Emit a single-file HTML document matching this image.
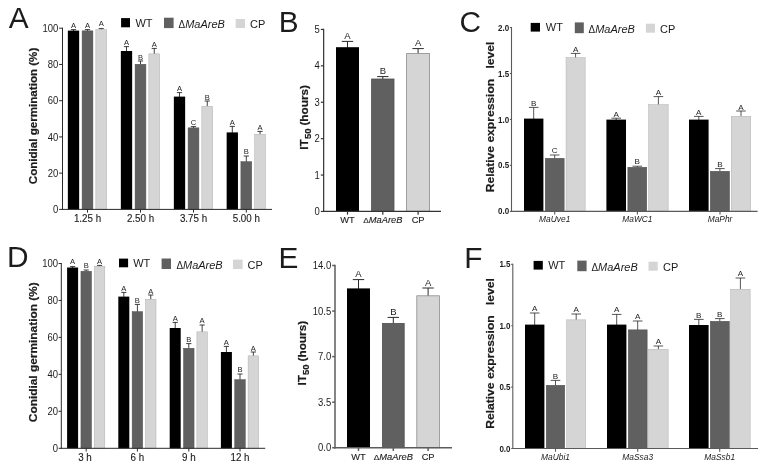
<!DOCTYPE html>
<html lang="en">
<head>
<meta charset="utf-8">
<title>Figure</title>
<style>
html,body{margin:0;padding:0;background:#ffffff;}
body{width:770px;height:467px;overflow:hidden;}
svg{display:block;}
svg text{font-family:"Liberation Sans",sans-serif;fill:#1c1c1c;}
svg text.t{stroke:#1c1c1c;stroke-width:0.12px;}
svg .yl{stroke:#1c1c1c;stroke-width:0.2px;}
</style>
</head>
<body>
<svg width="770" height="467" viewBox="0 0 770 467">
<rect x="0" y="0" width="770" height="467" fill="#ffffff"/>
<text x="8.7" y="27.8" font-size="29.8">A</text>
<line x1="73.5" y1="29.6" x2="73.5" y2="31.1" stroke="#2a2a2a" stroke-width="0.9"/>
<line x1="70.9" y1="29.6" x2="76.1" y2="29.6" stroke="#2a2a2a" stroke-width="0.9"/>
<rect x="67.85" y="30.6" width="11.3" height="178.8" fill="#000000"/>
<text x="73.5" y="27.5" font-size="7.6" text-anchor="middle">A</text>
<line x1="87.5" y1="29.6" x2="87.5" y2="31.1" stroke="#2a2a2a" stroke-width="0.9"/>
<line x1="84.9" y1="29.6" x2="90.1" y2="29.6" stroke="#2a2a2a" stroke-width="0.9"/>
<rect x="82.1" y="30.85" width="10.8" height="178.55" fill="#606060" stroke="#505050" stroke-width="0.5"/>
<text x="87.5" y="27.5" font-size="7.6" text-anchor="middle">A</text>
<line x1="101.25" y1="28.6" x2="101.25" y2="29.9" stroke="#2a2a2a" stroke-width="0.9"/>
<line x1="98.65" y1="28.6" x2="103.85" y2="28.6" stroke="#2a2a2a" stroke-width="0.9"/>
<rect x="95.85" y="29.65" width="10.8" height="179.75" fill="#d5d5d5" stroke="#b0b0b0" stroke-width="0.5"/>
<text x="101.25" y="26.3" font-size="7.6" text-anchor="middle">A</text>
<line x1="126.5" y1="46.6" x2="126.5" y2="51.5" stroke="#2a2a2a" stroke-width="0.9"/>
<line x1="123.9" y1="46.6" x2="129.1" y2="46.6" stroke="#2a2a2a" stroke-width="0.9"/>
<rect x="120.85" y="51" width="11.3" height="158.4" fill="#000000"/>
<text x="126.5" y="45.4" font-size="7.6" text-anchor="middle">A</text>
<line x1="140.5" y1="61" x2="140.5" y2="64.5" stroke="#2a2a2a" stroke-width="0.9"/>
<line x1="137.9" y1="61" x2="143.1" y2="61" stroke="#2a2a2a" stroke-width="0.9"/>
<rect x="135.1" y="64.25" width="10.8" height="145.15" fill="#606060" stroke="#505050" stroke-width="0.5"/>
<text x="140.5" y="59.6" font-size="7.6" text-anchor="middle">B</text>
<line x1="154.25" y1="48.4" x2="154.25" y2="54.1" stroke="#2a2a2a" stroke-width="0.9"/>
<line x1="151.65" y1="48.4" x2="156.85" y2="48.4" stroke="#2a2a2a" stroke-width="0.9"/>
<rect x="148.85" y="53.85" width="10.8" height="155.55" fill="#d5d5d5" stroke="#b0b0b0" stroke-width="0.5"/>
<text x="154.25" y="47" font-size="7.6" text-anchor="middle">A</text>
<line x1="179.5" y1="92.6" x2="179.5" y2="97.1" stroke="#2a2a2a" stroke-width="0.9"/>
<line x1="176.9" y1="92.6" x2="182.1" y2="92.6" stroke="#2a2a2a" stroke-width="0.9"/>
<rect x="173.85" y="96.6" width="11.3" height="112.8" fill="#000000"/>
<text x="179.5" y="91" font-size="7.6" text-anchor="middle">A</text>
<line x1="193.5" y1="126.6" x2="193.5" y2="128.1" stroke="#2a2a2a" stroke-width="0.9"/>
<line x1="190.9" y1="126.6" x2="196.1" y2="126.6" stroke="#2a2a2a" stroke-width="0.9"/>
<rect x="188.1" y="127.85" width="10.8" height="81.55" fill="#606060" stroke="#505050" stroke-width="0.5"/>
<text x="193.5" y="125.2" font-size="7.6" text-anchor="middle">C</text>
<line x1="207.25" y1="101" x2="207.25" y2="106.5" stroke="#2a2a2a" stroke-width="0.9"/>
<line x1="204.65" y1="101" x2="209.85" y2="101" stroke="#2a2a2a" stroke-width="0.9"/>
<rect x="201.85" y="106.25" width="10.8" height="103.15" fill="#d5d5d5" stroke="#b0b0b0" stroke-width="0.5"/>
<text x="207.25" y="99.6" font-size="7.6" text-anchor="middle">B</text>
<line x1="232.3" y1="126.4" x2="232.3" y2="132.9" stroke="#2a2a2a" stroke-width="0.9"/>
<line x1="229.7" y1="126.4" x2="234.9" y2="126.4" stroke="#2a2a2a" stroke-width="0.9"/>
<rect x="226.65" y="132.4" width="11.3" height="77" fill="#000000"/>
<text x="232.3" y="125" font-size="7.6" text-anchor="middle">A</text>
<line x1="246.3" y1="156" x2="246.3" y2="161.9" stroke="#2a2a2a" stroke-width="0.9"/>
<line x1="243.7" y1="156" x2="248.9" y2="156" stroke="#2a2a2a" stroke-width="0.9"/>
<rect x="240.9" y="161.65" width="10.8" height="47.75" fill="#606060" stroke="#505050" stroke-width="0.5"/>
<text x="246.3" y="154.4" font-size="7.6" text-anchor="middle">B</text>
<line x1="260.05" y1="131.4" x2="260.05" y2="134.5" stroke="#2a2a2a" stroke-width="0.9"/>
<line x1="257.45" y1="131.4" x2="262.65" y2="131.4" stroke="#2a2a2a" stroke-width="0.9"/>
<rect x="254.65" y="134.25" width="10.8" height="75.15" fill="#d5d5d5" stroke="#b0b0b0" stroke-width="0.5"/>
<text x="260.05" y="130" font-size="7.6" text-anchor="middle">A</text>
<line x1="62.5" y1="27.7" x2="62.5" y2="209.9" stroke="#2a2a2a" stroke-width="1"/>
<line x1="59.1" y1="28.2" x2="62.5" y2="28.2" stroke="#2a2a2a" stroke-width="1"/>
<text font-size="9.5" transform="translate(58.3 31.84) scale(1 1.1)" text-anchor="end">100</text>
<line x1="59.1" y1="64.45" x2="62.5" y2="64.45" stroke="#2a2a2a" stroke-width="1"/>
<text font-size="9.5" transform="translate(58.3 68.09) scale(1 1.1)" text-anchor="end">80</text>
<line x1="59.1" y1="100.7" x2="62.5" y2="100.7" stroke="#2a2a2a" stroke-width="1"/>
<text font-size="9.5" transform="translate(58.3 104.34) scale(1 1.1)" text-anchor="end">60</text>
<line x1="59.1" y1="136.9" x2="62.5" y2="136.9" stroke="#2a2a2a" stroke-width="1"/>
<text font-size="9.5" transform="translate(58.3 140.54) scale(1 1.1)" text-anchor="end">40</text>
<line x1="59.1" y1="173.15" x2="62.5" y2="173.15" stroke="#2a2a2a" stroke-width="1"/>
<text font-size="9.5" transform="translate(58.3 176.79) scale(1 1.1)" text-anchor="end">20</text>
<line x1="59.1" y1="209.4" x2="62.5" y2="209.4" stroke="#2a2a2a" stroke-width="1"/>
<text font-size="9.5" transform="translate(58.3 213.04) scale(1 1.1)" text-anchor="end">0</text>
<line x1="62" y1="209.4" x2="272" y2="209.4" stroke="#2a2a2a" stroke-width="1"/>
<line x1="87.5" y1="209.4" x2="87.5" y2="212.6" stroke="#2a2a2a" stroke-width="1"/>
<line x1="140.5" y1="209.4" x2="140.5" y2="212.6" stroke="#2a2a2a" stroke-width="1"/>
<line x1="193.5" y1="209.4" x2="193.5" y2="212.6" stroke="#2a2a2a" stroke-width="1"/>
<line x1="246.3" y1="209.4" x2="246.3" y2="212.6" stroke="#2a2a2a" stroke-width="1"/>
<text font-size="9.8" transform="translate(87.5 222.4) scale(1 1.06)" text-anchor="middle" class="t">1.25 h</text>
<text font-size="9.8" transform="translate(140.5 222.4) scale(1 1.06)" text-anchor="middle" class="t">2.50 h</text>
<text font-size="9.8" transform="translate(193.5 222.4) scale(1 1.06)" text-anchor="middle" class="t">3.75 h</text>
<text font-size="9.8" transform="translate(246.3 222.4) scale(1 1.06)" text-anchor="middle" class="t">5.00 h</text>
<text class="yl" font-size="10.36" font-weight="bold" transform="translate(36.8 184.2) rotate(-90) scale(1.12 1)">Conidial germination (%)</text>
<rect x="121.1" y="18.1" width="8.9" height="9.2" fill="#000000"/>
<text font-size="11" transform="translate(135.4 26.9) scale(1 1.03)">WT</text>
<rect x="164" y="17.7" width="9.6" height="10.4" fill="#606060"/>
<text font-size="11" transform="translate(178.6 27.5) scale(1 1.03)"><tspan font-size="0.9em">Δ</tspan><tspan font-style="italic">MaAreB</tspan></text>
<rect x="235.7" y="19" width="9.3" height="9" fill="#d5d5d5"/>
<text font-size="11" transform="translate(250 27.5) scale(1 1.03)">CP</text>
<text x="7" y="266.6" font-size="29.8">D</text>
<line x1="72.6" y1="266.6" x2="72.6" y2="268" stroke="#2a2a2a" stroke-width="0.9"/>
<line x1="70" y1="266.6" x2="75.2" y2="266.6" stroke="#2a2a2a" stroke-width="0.9"/>
<rect x="67.1" y="267.5" width="11" height="180.8" fill="#000000"/>
<text x="72.6" y="264.4" font-size="7.6" text-anchor="middle">A</text>
<line x1="86.2" y1="270" x2="86.2" y2="271.5" stroke="#2a2a2a" stroke-width="0.9"/>
<line x1="83.6" y1="270" x2="88.8" y2="270" stroke="#2a2a2a" stroke-width="0.9"/>
<rect x="80.95" y="271.25" width="10.5" height="177.05" fill="#606060" stroke="#505050" stroke-width="0.5"/>
<text x="86.2" y="268.2" font-size="7.6" text-anchor="middle">B</text>
<line x1="99.55" y1="265.4" x2="99.55" y2="266.5" stroke="#2a2a2a" stroke-width="0.9"/>
<line x1="96.95" y1="265.4" x2="102.15" y2="265.4" stroke="#2a2a2a" stroke-width="0.9"/>
<rect x="94.3" y="266.25" width="10.5" height="182.05" fill="#d5d5d5" stroke="#b0b0b0" stroke-width="0.5"/>
<text x="99.55" y="264" font-size="7.6" text-anchor="middle">A</text>
<line x1="123.8" y1="292.4" x2="123.8" y2="297.1" stroke="#2a2a2a" stroke-width="0.9"/>
<line x1="121.2" y1="292.4" x2="126.4" y2="292.4" stroke="#2a2a2a" stroke-width="0.9"/>
<rect x="118.3" y="296.6" width="11" height="151.7" fill="#000000"/>
<text x="123.8" y="291" font-size="7.6" text-anchor="middle">A</text>
<line x1="137.4" y1="304.4" x2="137.4" y2="311.9" stroke="#2a2a2a" stroke-width="0.9"/>
<line x1="134.8" y1="304.4" x2="140" y2="304.4" stroke="#2a2a2a" stroke-width="0.9"/>
<rect x="132.15" y="311.65" width="10.5" height="136.65" fill="#606060" stroke="#505050" stroke-width="0.5"/>
<text x="137.4" y="302.6" font-size="7.6" text-anchor="middle">B</text>
<line x1="150.75" y1="295" x2="150.75" y2="299.5" stroke="#2a2a2a" stroke-width="0.9"/>
<line x1="148.15" y1="295" x2="153.35" y2="295" stroke="#2a2a2a" stroke-width="0.9"/>
<rect x="145.5" y="299.25" width="10.5" height="149.05" fill="#d5d5d5" stroke="#b0b0b0" stroke-width="0.5"/>
<text x="150.75" y="293.6" font-size="7.6" text-anchor="middle">A</text>
<line x1="175.2" y1="322.4" x2="175.2" y2="328.5" stroke="#2a2a2a" stroke-width="0.9"/>
<line x1="172.6" y1="322.4" x2="177.8" y2="322.4" stroke="#2a2a2a" stroke-width="0.9"/>
<rect x="169.7" y="328" width="11" height="120.3" fill="#000000"/>
<text x="175.2" y="321" font-size="7.6" text-anchor="middle">A</text>
<line x1="188.8" y1="343.6" x2="188.8" y2="348.5" stroke="#2a2a2a" stroke-width="0.9"/>
<line x1="186.2" y1="343.6" x2="191.4" y2="343.6" stroke="#2a2a2a" stroke-width="0.9"/>
<rect x="183.55" y="348.25" width="10.5" height="100.05" fill="#606060" stroke="#505050" stroke-width="0.5"/>
<text x="188.8" y="342" font-size="7.6" text-anchor="middle">B</text>
<line x1="202.15" y1="325" x2="202.15" y2="332.1" stroke="#2a2a2a" stroke-width="0.9"/>
<line x1="199.55" y1="325" x2="204.75" y2="325" stroke="#2a2a2a" stroke-width="0.9"/>
<rect x="196.9" y="331.85" width="10.5" height="116.45" fill="#d5d5d5" stroke="#b0b0b0" stroke-width="0.5"/>
<text x="202.15" y="323.4" font-size="7.6" text-anchor="middle">A</text>
<line x1="226.4" y1="346.4" x2="226.4" y2="352.5" stroke="#2a2a2a" stroke-width="0.9"/>
<line x1="223.8" y1="346.4" x2="229" y2="346.4" stroke="#2a2a2a" stroke-width="0.9"/>
<rect x="220.9" y="352" width="11" height="96.3" fill="#000000"/>
<text x="226.4" y="345" font-size="7.6" text-anchor="middle">A</text>
<line x1="240" y1="374" x2="240" y2="379.9" stroke="#2a2a2a" stroke-width="0.9"/>
<line x1="237.4" y1="374" x2="242.6" y2="374" stroke="#2a2a2a" stroke-width="0.9"/>
<rect x="234.75" y="379.65" width="10.5" height="68.65" fill="#606060" stroke="#505050" stroke-width="0.5"/>
<text x="240" y="372.4" font-size="7.6" text-anchor="middle">B</text>
<line x1="253.35" y1="352" x2="253.35" y2="356.1" stroke="#2a2a2a" stroke-width="0.9"/>
<line x1="250.75" y1="352" x2="255.95" y2="352" stroke="#2a2a2a" stroke-width="0.9"/>
<rect x="248.1" y="355.85" width="10.5" height="92.45" fill="#d5d5d5" stroke="#b0b0b0" stroke-width="0.5"/>
<text x="253.35" y="351" font-size="7.6" text-anchor="middle">A</text>
<line x1="61.3" y1="263" x2="61.3" y2="448.8" stroke="#2a2a2a" stroke-width="1"/>
<line x1="58.6" y1="263.5" x2="61.3" y2="263.5" stroke="#2a2a2a" stroke-width="1"/>
<text font-size="9.5" transform="translate(58 267.14) scale(1 1.1)" text-anchor="end">100</text>
<line x1="58.6" y1="300.45" x2="61.3" y2="300.45" stroke="#2a2a2a" stroke-width="1"/>
<text font-size="9.5" transform="translate(58 304.09) scale(1 1.1)" text-anchor="end">80</text>
<line x1="58.6" y1="337.4" x2="61.3" y2="337.4" stroke="#2a2a2a" stroke-width="1"/>
<text font-size="9.5" transform="translate(58 341.04) scale(1 1.1)" text-anchor="end">60</text>
<line x1="58.6" y1="374.35" x2="61.3" y2="374.35" stroke="#2a2a2a" stroke-width="1"/>
<text font-size="9.5" transform="translate(58 377.99) scale(1 1.1)" text-anchor="end">40</text>
<line x1="58.6" y1="411.3" x2="61.3" y2="411.3" stroke="#2a2a2a" stroke-width="1"/>
<text font-size="9.5" transform="translate(58 414.94) scale(1 1.1)" text-anchor="end">20</text>
<line x1="58.6" y1="448.3" x2="61.3" y2="448.3" stroke="#2a2a2a" stroke-width="1"/>
<text font-size="9.5" transform="translate(58 451.94) scale(1 1.1)" text-anchor="end">0</text>
<line x1="60.8" y1="448.3" x2="265.2" y2="448.3" stroke="#2a2a2a" stroke-width="1"/>
<line x1="86.2" y1="448.3" x2="86.2" y2="451.5" stroke="#2a2a2a" stroke-width="1"/>
<line x1="137.4" y1="448.3" x2="137.4" y2="451.5" stroke="#2a2a2a" stroke-width="1"/>
<line x1="188.8" y1="448.3" x2="188.8" y2="451.5" stroke="#2a2a2a" stroke-width="1"/>
<line x1="240" y1="448.3" x2="240" y2="451.5" stroke="#2a2a2a" stroke-width="1"/>
<text font-size="9.8" transform="translate(85 460.9) scale(1 1.06)" text-anchor="middle" class="t">3 h</text>
<text font-size="9.8" transform="translate(137.4 460.9) scale(1 1.06)" text-anchor="middle" class="t">6 h</text>
<text font-size="9.8" transform="translate(188.8 460.9) scale(1 1.06)" text-anchor="middle" class="t">9 h</text>
<text font-size="9.8" transform="translate(240 460.9) scale(1 1.06)" text-anchor="middle" class="t">12 h</text>
<text class="yl" font-size="10.62" font-weight="bold" transform="translate(36.9 422.2) rotate(-90) scale(1.12 1)">Conidial germination (%)</text>
<rect x="119" y="258.6" width="9.1" height="8.7" fill="#000000"/>
<text font-size="11" transform="translate(133.2 267.1) scale(1 1.03)">WT</text>
<rect x="161.6" y="258.5" width="9.4" height="10.5" fill="#606060"/>
<text font-size="11" transform="translate(176.4 268.5) scale(1 1.03)"><tspan font-size="0.9em">Δ</tspan><tspan font-style="italic">MaAreB</tspan></text>
<rect x="233" y="259.6" width="9.6" height="9.4" fill="#d5d5d5"/>
<text font-size="11" transform="translate(247.6 268.5) scale(1 1.03)">CP</text>
<text x="278.7" y="31.6" font-size="29.8">B</text>
<line x1="347.5" y1="41.4" x2="347.5" y2="47.7" stroke="#2a2a2a" stroke-width="1"/>
<line x1="341.8" y1="41.4" x2="353.2" y2="41.4" stroke="#2a2a2a" stroke-width="1"/>
<rect x="336" y="47.2" width="23" height="164.25" fill="#000000"/>
<text x="347.5" y="38.7" font-size="9.5" text-anchor="middle">A</text>
<line x1="382.8" y1="76.6" x2="382.8" y2="79.1" stroke="#2a2a2a" stroke-width="1"/>
<line x1="377.1" y1="76.6" x2="388.5" y2="76.6" stroke="#2a2a2a" stroke-width="1"/>
<rect x="371.6" y="79" width="22.4" height="132.45" fill="#606060" stroke="#505050" stroke-width="0.8"/>
<text x="382.8" y="74.1" font-size="9.5" text-anchor="middle">B</text>
<line x1="418.1" y1="48.6" x2="418.1" y2="53.7" stroke="#2a2a2a" stroke-width="1"/>
<line x1="412.4" y1="48.6" x2="423.8" y2="48.6" stroke="#2a2a2a" stroke-width="1"/>
<rect x="406.6" y="53.6" width="23" height="157.85" fill="#d5d5d5" stroke="#8c8c8c" stroke-width="0.8"/>
<text x="418.1" y="46.3" font-size="9.5" text-anchor="middle">A</text>
<line x1="323.65" y1="28.85" x2="323.65" y2="212.05" stroke="#333333" stroke-width="1.2"/>
<line x1="320.85" y1="29.45" x2="323.65" y2="29.45" stroke="#333333" stroke-width="1.2"/>
<text font-size="9.5" transform="translate(319.85 33.09) scale(1 1.1)" text-anchor="end">5</text>
<line x1="320.85" y1="65.85" x2="323.65" y2="65.85" stroke="#333333" stroke-width="1.2"/>
<text font-size="9.5" transform="translate(319.85 69.49) scale(1 1.1)" text-anchor="end">4</text>
<line x1="320.85" y1="102.25" x2="323.65" y2="102.25" stroke="#333333" stroke-width="1.2"/>
<text font-size="9.5" transform="translate(319.85 105.89) scale(1 1.1)" text-anchor="end">3</text>
<line x1="320.85" y1="138.65" x2="323.65" y2="138.65" stroke="#333333" stroke-width="1.2"/>
<text font-size="9.5" transform="translate(319.85 142.29) scale(1 1.1)" text-anchor="end">2</text>
<line x1="320.85" y1="175.05" x2="323.65" y2="175.05" stroke="#333333" stroke-width="1.2"/>
<text font-size="9.5" transform="translate(319.85 178.69) scale(1 1.1)" text-anchor="end">1</text>
<line x1="320.85" y1="211.45" x2="323.65" y2="211.45" stroke="#333333" stroke-width="1.2"/>
<text font-size="9.5" transform="translate(319.85 215.09) scale(1 1.1)" text-anchor="end">0</text>
<line x1="323.05" y1="211.45" x2="441" y2="211.45" stroke="#333333" stroke-width="1.2"/>
<line x1="347.5" y1="211.45" x2="347.5" y2="214.65" stroke="#333333" stroke-width="1.2"/>
<line x1="382.8" y1="211.45" x2="382.8" y2="214.65" stroke="#333333" stroke-width="1.2"/>
<line x1="418.1" y1="211.45" x2="418.1" y2="214.65" stroke="#333333" stroke-width="1.2"/>
<text font-size="9.3" transform="translate(347.5 223) scale(1 0.96)" text-anchor="middle" class="t">WT</text>
<text font-size="9.3" transform="translate(382.8 223) scale(1 0.96)" text-anchor="middle" class="t"><tspan font-size="0.9em">Δ</tspan><tspan font-style="italic">MaAreB</tspan></text>
<text font-size="9.3" transform="translate(418.1 223) scale(1 0.96)" text-anchor="middle" class="t">CP</text>
<g class="yl" transform="translate(307.5 149.7) rotate(-90) scale(1.12 1)" font-weight="bold">
<text x="0" y="0" font-size="10.54">IT</text>
<text x="9.46" y="3.0" font-size="8.57">50</text>
<text x="21.52" y="0" font-size="10.54">(hours)</text>
</g>
<text x="278.5" y="267.8" font-size="29.8">E</text>
<line x1="358.5" y1="279.6" x2="358.5" y2="288.9" stroke="#2a2a2a" stroke-width="1"/>
<line x1="352.8" y1="279.6" x2="364.2" y2="279.6" stroke="#2a2a2a" stroke-width="1"/>
<rect x="347" y="288.4" width="23" height="159.35" fill="#000000"/>
<text x="358.5" y="277.1" font-size="9.5" text-anchor="middle">A</text>
<line x1="393.3" y1="317.4" x2="393.3" y2="323.5" stroke="#2a2a2a" stroke-width="1"/>
<line x1="387.6" y1="317.4" x2="399" y2="317.4" stroke="#2a2a2a" stroke-width="1"/>
<rect x="382.4" y="323.4" width="21.8" height="124.35" fill="#606060" stroke="#505050" stroke-width="0.8"/>
<text x="393.3" y="314.7" font-size="9.5" text-anchor="middle">B</text>
<line x1="428.1" y1="288" x2="428.1" y2="295.9" stroke="#2a2a2a" stroke-width="1"/>
<line x1="422.4" y1="288" x2="433.8" y2="288" stroke="#2a2a2a" stroke-width="1"/>
<rect x="416.8" y="295.8" width="22.6" height="151.95" fill="#d5d5d5" stroke="#8c8c8c" stroke-width="0.8"/>
<text x="428.1" y="285.7" font-size="9.5" text-anchor="middle">A</text>
<line x1="335" y1="264.75" x2="335" y2="448.5" stroke="#5c5c5c" stroke-width="1.5"/>
<line x1="332.2" y1="265.5" x2="335" y2="265.5" stroke="#5c5c5c" stroke-width="1.5"/>
<text font-size="9.5" transform="translate(331.2 269.14) scale(1 1.1)" text-anchor="end">14.0</text>
<line x1="332.2" y1="311.05" x2="335" y2="311.05" stroke="#5c5c5c" stroke-width="1.5"/>
<text font-size="9.5" transform="translate(331.2 314.69) scale(1 1.1)" text-anchor="end">10.5</text>
<line x1="332.2" y1="356.6" x2="335" y2="356.6" stroke="#5c5c5c" stroke-width="1.5"/>
<text font-size="9.5" transform="translate(331.2 360.24) scale(1 1.1)" text-anchor="end">7.0</text>
<line x1="332.2" y1="402.2" x2="335" y2="402.2" stroke="#5c5c5c" stroke-width="1.5"/>
<text font-size="9.5" transform="translate(331.2 405.84) scale(1 1.1)" text-anchor="end">3.5</text>
<line x1="332.2" y1="447.75" x2="335" y2="447.75" stroke="#5c5c5c" stroke-width="1.5"/>
<text font-size="9.5" transform="translate(331.2 451.39) scale(1 1.1)" text-anchor="end">0.0</text>
<line x1="334.25" y1="447.75" x2="452" y2="447.75" stroke="#5c5c5c" stroke-width="1.5"/>
<line x1="358.5" y1="447.75" x2="358.5" y2="450.95" stroke="#5c5c5c" stroke-width="1.5"/>
<line x1="393.3" y1="447.75" x2="393.3" y2="450.95" stroke="#5c5c5c" stroke-width="1.5"/>
<line x1="428.1" y1="447.75" x2="428.1" y2="450.95" stroke="#5c5c5c" stroke-width="1.5"/>
<text font-size="9.3" transform="translate(358.5 459.6) scale(1 0.96)" text-anchor="middle" class="t">WT</text>
<text font-size="9.3" transform="translate(393.3 459.6) scale(1 0.96)" text-anchor="middle" class="t"><tspan font-size="0.9em">Δ</tspan><tspan font-style="italic">MaAreB</tspan></text>
<text font-size="9.3" transform="translate(428.1 459.6) scale(1 0.96)" text-anchor="middle" class="t">CP</text>
<g class="yl" transform="translate(305.5 385.6) rotate(-90) scale(1.12 1)" font-weight="bold">
<text x="0" y="0" font-size="10.54">IT</text>
<text x="9.46" y="3.0" font-size="8.57">50</text>
<text x="21.52" y="0" font-size="10.54">(hours)</text>
</g>
<text x="459.4" y="31.5" font-size="29.8">C</text>
<line x1="533.7" y1="107.4" x2="533.7" y2="119.1" stroke="#2a2a2a" stroke-width="0.8"/>
<line x1="528.9" y1="107.4" x2="538.5" y2="107.4" stroke="#2a2a2a" stroke-width="0.8"/>
<rect x="524" y="118.6" width="19.4" height="92.8" fill="#000000"/>
<text x="533.7" y="105.8" font-size="8.1" text-anchor="middle">B</text>
<line x1="554.7" y1="155" x2="554.7" y2="158.5" stroke="#2a2a2a" stroke-width="0.8"/>
<line x1="549.9" y1="155" x2="559.5" y2="155" stroke="#2a2a2a" stroke-width="0.8"/>
<rect x="545.25" y="158.25" width="18.9" height="53.15" fill="#606060" stroke="#505050" stroke-width="0.5"/>
<text x="554.7" y="153" font-size="8.1" text-anchor="middle">C</text>
<line x1="575.6" y1="53.4" x2="575.6" y2="57.9" stroke="#2a2a2a" stroke-width="0.8"/>
<line x1="570.8" y1="53.4" x2="580.4" y2="53.4" stroke="#2a2a2a" stroke-width="0.8"/>
<rect x="566.05" y="57.65" width="19.1" height="153.75" fill="#d5d5d5" stroke="#b0b0b0" stroke-width="0.5"/>
<text x="575.6" y="51.8" font-size="8.1" text-anchor="middle">A</text>
<line x1="616.2" y1="118.2" x2="616.2" y2="120.1" stroke="#2a2a2a" stroke-width="0.8"/>
<line x1="611.4" y1="118.2" x2="621" y2="118.2" stroke="#2a2a2a" stroke-width="0.8"/>
<rect x="606.4" y="119.6" width="19.6" height="91.8" fill="#000000"/>
<text x="616.2" y="116.6" font-size="8.1" text-anchor="middle">A</text>
<line x1="637.3" y1="166.2" x2="637.3" y2="167.5" stroke="#2a2a2a" stroke-width="0.8"/>
<line x1="632.5" y1="166.2" x2="642.1" y2="166.2" stroke="#2a2a2a" stroke-width="0.8"/>
<rect x="627.85" y="167.25" width="18.9" height="44.15" fill="#606060" stroke="#505050" stroke-width="0.5"/>
<text x="637.3" y="164.4" font-size="8.1" text-anchor="middle">B</text>
<line x1="658.4" y1="96.6" x2="658.4" y2="104.9" stroke="#2a2a2a" stroke-width="0.8"/>
<line x1="653.6" y1="96.6" x2="663.2" y2="96.6" stroke="#2a2a2a" stroke-width="0.8"/>
<rect x="648.65" y="104.65" width="19.5" height="106.75" fill="#d5d5d5" stroke="#b0b0b0" stroke-width="0.5"/>
<text x="658.4" y="94.8" font-size="8.1" text-anchor="middle">A</text>
<line x1="698.8" y1="116.4" x2="698.8" y2="120.1" stroke="#2a2a2a" stroke-width="0.8"/>
<line x1="694" y1="116.4" x2="703.6" y2="116.4" stroke="#2a2a2a" stroke-width="0.8"/>
<rect x="689" y="119.6" width="19.6" height="91.8" fill="#000000"/>
<text x="698.8" y="115" font-size="8.1" text-anchor="middle">A</text>
<line x1="719.9" y1="168.6" x2="719.9" y2="171.5" stroke="#2a2a2a" stroke-width="0.8"/>
<line x1="715.1" y1="168.6" x2="724.7" y2="168.6" stroke="#2a2a2a" stroke-width="0.8"/>
<rect x="710.25" y="171.25" width="19.3" height="40.15" fill="#606060" stroke="#505050" stroke-width="0.5"/>
<text x="719.9" y="167" font-size="8.1" text-anchor="middle">B</text>
<line x1="741" y1="111" x2="741" y2="116.5" stroke="#2a2a2a" stroke-width="0.8"/>
<line x1="736.2" y1="111" x2="745.8" y2="111" stroke="#2a2a2a" stroke-width="0.8"/>
<rect x="731.25" y="116.25" width="19.5" height="95.15" fill="#d5d5d5" stroke="#b0b0b0" stroke-width="0.5"/>
<text x="741" y="109.8" font-size="8.1" text-anchor="middle">A</text>
<line x1="511.5" y1="26.95" x2="511.5" y2="211.95" stroke="#5a5a5a" stroke-width="1.1"/>
<line x1="509.9" y1="27.5" x2="511.5" y2="27.5" stroke="#5a5a5a" stroke-width="1.1"/>
<text font-size="8" transform="translate(509.2 30.55) scale(1 1.1)" text-anchor="end" font-weight="bold">2.0</text>
<line x1="509.9" y1="73.5" x2="511.5" y2="73.5" stroke="#5a5a5a" stroke-width="1.1"/>
<text font-size="8" transform="translate(509.2 76.55) scale(1 1.1)" text-anchor="end" font-weight="bold">1.5</text>
<line x1="509.9" y1="119.45" x2="511.5" y2="119.45" stroke="#5a5a5a" stroke-width="1.1"/>
<text font-size="8" transform="translate(509.2 122.5) scale(1 1.1)" text-anchor="end" font-weight="bold">1.0</text>
<line x1="509.9" y1="165.4" x2="511.5" y2="165.4" stroke="#5a5a5a" stroke-width="1.1"/>
<text font-size="8" transform="translate(509.2 168.45) scale(1 1.1)" text-anchor="end" font-weight="bold">0.5</text>
<line x1="509.9" y1="211.4" x2="511.5" y2="211.4" stroke="#5a5a5a" stroke-width="1.1"/>
<text font-size="8" transform="translate(509.2 214.45) scale(1 1.1)" text-anchor="end" font-weight="bold">0.0</text>
<line x1="510.95" y1="211.4" x2="757.6" y2="211.4" stroke="#5a5a5a" stroke-width="1.1"/>
<line x1="554.7" y1="211.4" x2="554.7" y2="214.6" stroke="#5a5a5a" stroke-width="1.1"/>
<line x1="637.4" y1="211.4" x2="637.4" y2="214.6" stroke="#5a5a5a" stroke-width="1.1"/>
<line x1="720" y1="211.4" x2="720" y2="214.6" stroke="#5a5a5a" stroke-width="1.1"/>
<text font-size="8.4" transform="translate(554.7 222) scale(1 1)" text-anchor="middle" font-style="italic">MaUve1</text>
<text font-size="8.4" transform="translate(637.4 222) scale(1 1)" text-anchor="middle" font-style="italic">MaWC1</text>
<text font-size="8.4" transform="translate(720 222) scale(1 1)" text-anchor="middle" font-style="italic">MaPhr</text>
<text class="yl" font-size="10.8" font-weight="bold" transform="translate(494.3 192.3) rotate(-90) scale(1.12 1)">Relative expression</text>
<text class="yl" font-size="10.8" font-weight="bold" transform="translate(494.3 68.5) rotate(-90) scale(1.12 1)">level</text>
<rect x="530.7" y="22.9" width="9.3" height="8.7" fill="#000000"/>
<text font-size="11" transform="translate(545.8 31.4) scale(1 1.03)">WT</text>
<rect x="574.8" y="22.4" width="9" height="10.8" fill="#606060"/>
<text font-size="11" transform="translate(588.6 32.5) scale(1 1.03)"><tspan font-size="0.9em">Δ</tspan><tspan font-style="italic">MaAreB</tspan></text>
<rect x="645.9" y="23.7" width="9.1" height="9" fill="#d5d5d5"/>
<text font-size="11" transform="translate(660 32.5) scale(1 1.03)">CP</text>
<text x="464.3" y="267.6" font-size="29.8">F</text>
<line x1="534.7" y1="313" x2="534.7" y2="325.1" stroke="#2a2a2a" stroke-width="0.8"/>
<line x1="529.9" y1="313" x2="539.5" y2="313" stroke="#2a2a2a" stroke-width="0.8"/>
<rect x="525" y="324.6" width="19.4" height="123.9" fill="#000000"/>
<text x="534.7" y="311" font-size="8.1" text-anchor="middle">A</text>
<line x1="555.5" y1="380.4" x2="555.5" y2="385.5" stroke="#2a2a2a" stroke-width="0.8"/>
<line x1="550.7" y1="380.4" x2="560.3" y2="380.4" stroke="#2a2a2a" stroke-width="0.8"/>
<rect x="546.25" y="385.25" width="18.5" height="63.25" fill="#606060" stroke="#505050" stroke-width="0.5"/>
<text x="555.5" y="378.6" font-size="8.1" text-anchor="middle">B</text>
<line x1="576.2" y1="314" x2="576.2" y2="320.1" stroke="#2a2a2a" stroke-width="0.8"/>
<line x1="571.4" y1="314" x2="581" y2="314" stroke="#2a2a2a" stroke-width="0.8"/>
<rect x="566.65" y="319.85" width="19.1" height="128.65" fill="#d5d5d5" stroke="#b0b0b0" stroke-width="0.5"/>
<text x="576.2" y="312.2" font-size="8.1" text-anchor="middle">A</text>
<line x1="616.7" y1="314.4" x2="616.7" y2="325.1" stroke="#2a2a2a" stroke-width="0.8"/>
<line x1="611.9" y1="314.4" x2="621.5" y2="314.4" stroke="#2a2a2a" stroke-width="0.8"/>
<rect x="607" y="324.6" width="19.4" height="123.9" fill="#000000"/>
<text x="616.7" y="312.4" font-size="8.1" text-anchor="middle">A</text>
<line x1="637.7" y1="321" x2="637.7" y2="330.1" stroke="#2a2a2a" stroke-width="0.8"/>
<line x1="632.9" y1="321" x2="642.5" y2="321" stroke="#2a2a2a" stroke-width="0.8"/>
<rect x="628.25" y="329.85" width="18.9" height="118.65" fill="#606060" stroke="#505050" stroke-width="0.5"/>
<text x="637.7" y="319.2" font-size="8.1" text-anchor="middle">A</text>
<line x1="658.4" y1="346" x2="658.4" y2="349.5" stroke="#2a2a2a" stroke-width="0.8"/>
<line x1="653.6" y1="346" x2="663.2" y2="346" stroke="#2a2a2a" stroke-width="0.8"/>
<rect x="648.65" y="349.25" width="19.5" height="99.25" fill="#d5d5d5" stroke="#b0b0b0" stroke-width="0.5"/>
<text x="658.4" y="343.8" font-size="8.1" text-anchor="middle">A</text>
<line x1="698.8" y1="319.4" x2="698.8" y2="325.5" stroke="#2a2a2a" stroke-width="0.8"/>
<line x1="694" y1="319.4" x2="703.6" y2="319.4" stroke="#2a2a2a" stroke-width="0.8"/>
<rect x="689" y="325" width="19.6" height="123.5" fill="#000000"/>
<text x="698.8" y="317.6" font-size="8.1" text-anchor="middle">B</text>
<line x1="719.8" y1="318.6" x2="719.8" y2="321.5" stroke="#2a2a2a" stroke-width="0.8"/>
<line x1="715" y1="318.6" x2="724.6" y2="318.6" stroke="#2a2a2a" stroke-width="0.8"/>
<rect x="710.25" y="321.25" width="19.1" height="127.25" fill="#606060" stroke="#505050" stroke-width="0.5"/>
<text x="719.8" y="317" font-size="8.1" text-anchor="middle">B</text>
<line x1="740.4" y1="278" x2="740.4" y2="289.5" stroke="#2a2a2a" stroke-width="0.8"/>
<line x1="735.6" y1="278" x2="745.2" y2="278" stroke="#2a2a2a" stroke-width="0.8"/>
<rect x="730.65" y="289.25" width="19.5" height="159.25" fill="#d5d5d5" stroke="#b0b0b0" stroke-width="0.5"/>
<text x="740.4" y="276.2" font-size="8.1" text-anchor="middle">A</text>
<line x1="512.8" y1="263.85" x2="512.8" y2="449.05" stroke="#5a5a5a" stroke-width="1.1"/>
<line x1="511.2" y1="264.4" x2="512.8" y2="264.4" stroke="#5a5a5a" stroke-width="1.1"/>
<text font-size="8" transform="translate(510.5 267.45) scale(1 1.1)" text-anchor="end" font-weight="bold">1.5</text>
<line x1="511.2" y1="325.8" x2="512.8" y2="325.8" stroke="#5a5a5a" stroke-width="1.1"/>
<text font-size="8" transform="translate(510.5 328.85) scale(1 1.1)" text-anchor="end" font-weight="bold">1.0</text>
<line x1="511.2" y1="387.1" x2="512.8" y2="387.1" stroke="#5a5a5a" stroke-width="1.1"/>
<text font-size="8" transform="translate(510.5 390.15) scale(1 1.1)" text-anchor="end" font-weight="bold">0.5</text>
<line x1="511.2" y1="448.5" x2="512.8" y2="448.5" stroke="#5a5a5a" stroke-width="1.1"/>
<text font-size="8" transform="translate(510.5 451.55) scale(1 1.1)" text-anchor="end" font-weight="bold">0.0</text>
<line x1="512.25" y1="448.5" x2="758" y2="448.5" stroke="#5a5a5a" stroke-width="1.1"/>
<line x1="555.5" y1="448.5" x2="555.5" y2="451.7" stroke="#5a5a5a" stroke-width="1.1"/>
<line x1="637.7" y1="448.5" x2="637.7" y2="451.7" stroke="#5a5a5a" stroke-width="1.1"/>
<line x1="719.7" y1="448.5" x2="719.7" y2="451.7" stroke="#5a5a5a" stroke-width="1.1"/>
<text font-size="8.4" transform="translate(555.5 459.6) scale(1 1)" text-anchor="middle" font-style="italic">MaUbi1</text>
<text font-size="8.4" transform="translate(637.7 459.6) scale(1 1)" text-anchor="middle" font-style="italic">MaSsa3</text>
<text font-size="8.4" transform="translate(719.7 459.6) scale(1 1)" text-anchor="middle" font-style="italic">MaSsb1</text>
<text class="yl" font-size="10.8" font-weight="bold" transform="translate(494.3 428.8) rotate(-90) scale(1.12 1)">Relative expression</text>
<text class="yl" font-size="10.8" font-weight="bold" transform="translate(494.3 305) rotate(-90) scale(1.12 1)">level</text>
<rect x="533.6" y="260.9" width="9.2" height="8.7" fill="#000000"/>
<text font-size="11" transform="translate(548.2 269.4) scale(1 1.03)">WT</text>
<rect x="577.3" y="260.6" width="9.3" height="10.6" fill="#606060"/>
<text font-size="11" transform="translate(591.5 270.6) scale(1 1.03)"><tspan font-size="0.9em">Δ</tspan><tspan font-style="italic">MaAreB</tspan></text>
<rect x="648.5" y="261.7" width="9.2" height="9" fill="#d5d5d5"/>
<text font-size="11" transform="translate(663.1 270.6) scale(1 1.03)">CP</text>
</svg>
</body>
</html>
